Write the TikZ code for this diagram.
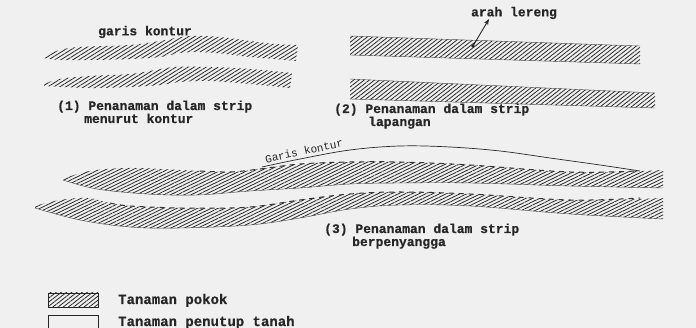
\documentclass[tikz,border=0pt]{standalone}
\usepackage{fontspec}
\setmonofont{Liberation Mono}
\newfontfamily\captfont{Liberation Mono}[BoldFeatures={FakeBold=0.5}]
\usetikzlibrary{patterns.meta,arrows.meta}
\tikzset{
  hatchone/.style={pattern={Lines[angle=32,distance=3.2pt,line width=0.8pt]},pattern color=black!85},
  hatchtwo/.style={pattern={Lines[angle=38,distance=3.2pt,line width=0.8pt]},pattern color=black!85},
  hatchthree/.style={pattern={Lines[angle=26,distance=3pt,line width=0.8pt]},pattern color=black!85},
  edge/.style={draw=black!70,line width=0.4pt},
  ragged/.style={draw=black!80,line width=1pt,dash pattern=on 5pt off 5pt},
  capt/.style={font=\fontsize{13}{14}\selectfont\captfont\bfseries,inner sep=0pt,anchor=base west,text=black!85},
  lbl/.style={font=\fontsize{13}{14}\selectfont\captfont\bfseries,inner sep=0pt,text=black!85},
  legtext/.style={font=\fontsize{14}{15}\selectfont\captfont\bfseries,inner sep=0pt,anchor=base west,text=black!85},
  legbox/.style={draw=black!85,line width=0.8pt,minimum width=50pt,minimum height=14pt,inner sep=0pt},
}
\begin{document}
\begin{tikzpicture}[x=1pt,y=-1pt]
\useasboundingbox (0,0) rectangle (696,328);
\fill[black!6] (0,0) rectangle (696,328);

% ---------- Panel 1 ----------
\node[lbl] (gk) at (145,32) {garis kontur};
\fill[hatchone] plot[smooth,tension=0.6] coordinates {(44,56) (60,50) (80,47) (130,45) (160,41) (190,36) (220,37) (250,41) (275,44) (298,45)}
  -- plot[smooth,tension=0.6] coordinates {(296,61) (275,59) (250,57) (225,54) (200,52) (180,53) (160,57) (130,59) (90,60) (60,60) (44,58)} -- cycle;
\fill[hatchone] plot[smooth,tension=0.6] coordinates {(44,84) (60,79) (90,76) (130,74) (150,71) (175,67) (210,67) (250,69) (292,73)}
  -- plot[smooth,tension=0.6] coordinates {(290,88) (250,84) (210,81) (180,82) (160,85) (130,87) (90,88) (44,86)} -- cycle;
\node[capt] (c1a) at (57,110) {(1) Penanaman dalam strip};
\node[capt] (c1b) at (84,123) {menurut kontur};

% ---------- Panel 2 ----------
\node[lbl] (al) at (514,13) {arah lereng};
\fill[hatchtwo] (350,36) -- (640,46) -- (640,64) -- (350,55) -- cycle;
\draw[edge] (350,36) -- (640,46);
\draw[edge] (350,55) -- (640,64);
\fill[hatchtwo] (350,79) -- (655,93) -- (655,108) -- (350,99) -- cycle;
\draw[edge] (350,79) -- (655,93);
\draw[edge] (350,99) -- (655,108);
\coordinate (aT) at (473,46);
\coordinate (aH) at (489,19);
\draw[black!85,line width=0.9pt,-{Stealth[length=6pt,width=4.5pt]}] (aT) -- (aH);
\fill[black!85] (aT) circle (1.8);
\node[capt] (c2a) at (334,113) {(2) Penanaman dalam strip};
\node[capt] (c2b) at (368,126) {lapangan};

% ---------- Panel 3 ----------
\draw[black!85,line width=0.7pt] plot[smooth,tension=0.6] coordinates {(262,167) (300,159) (350,150) (400,146) (450,147) (500,151) (550,158) (600,165) (640,171)};
\node[font=\fontsize{11}{12}\selectfont\ttfamily,text=black!85,inner sep=0pt,rotate=12] (gk3) at (304,151) {Garis kontur};
\fill[hatchthree] plot[smooth,tension=0.6] coordinates {(63,179) (90,171) (130,168) (180,170) (230,172) (260,169) (300,164) (350,162) (400,162) (470,165) (570,172) (637,171) (663,170)}
  -- plot[smooth,tension=0.6] coordinates {(663,188) (570,186) (470,183) (400,183) (350,184) (300,188) (250,191) (197,195) (147,194) (97,189) (63,180)} -- cycle;
\draw[edge] plot[smooth,tension=0.6] coordinates {(663,188) (570,186) (470,183) (400,183) (350,184) (300,188) (250,191) (197,195) (147,194) (97,189) (63,180)};
\draw[ragged] plot[smooth,tension=0.6] coordinates {(200,171) (230,172) (260,169) (300,164) (350,162) (400,162) (470,165) (570,172) (637,171)};
\fill[hatchthree] plot[smooth,tension=0.6] coordinates {(35,206) (60,200) (88,198) (105,202) (130,206) (180,208) (230,208) (260,206) (300,200) (350,194) (400,192) (470,194) (570,200) (663,198)}
  -- plot[smooth,tension=0.6] coordinates {(663,219) (570,214) (470,206) (400,205) (350,209) (300,218) (250,225) (180,228) (130,227) (80,220) (35,208)} -- cycle;
\draw[edge] plot[smooth,tension=0.6] coordinates {(663,219) (570,214) (470,206) (400,205) (350,209) (300,218) (250,225) (180,228) (130,227) (80,220) (35,208)};
\draw[ragged] plot[smooth,tension=0.6] coordinates {(110,203) (130,206) (180,208) (230,208) (260,206) (300,200) (350,194) (400,192) (470,194) (570,200) (640,198)};
\node[capt] (c3a) at (324,233) {(3) Penanaman dalam strip};
\node[capt] (c3b) at (352,246) {berpenyangga};

% ---------- Legend ----------
\node[legbox,hatchtwo] (lg1) at (73,300) {};
\node[legbox] (lg2) at (73,322) {};
\node[legtext] (lt1) at (118,304) {Tanaman pokok};
\node[legtext] (lt2) at (118,326) {Tanaman penutup tanah};
\end{tikzpicture}
\end{document}
